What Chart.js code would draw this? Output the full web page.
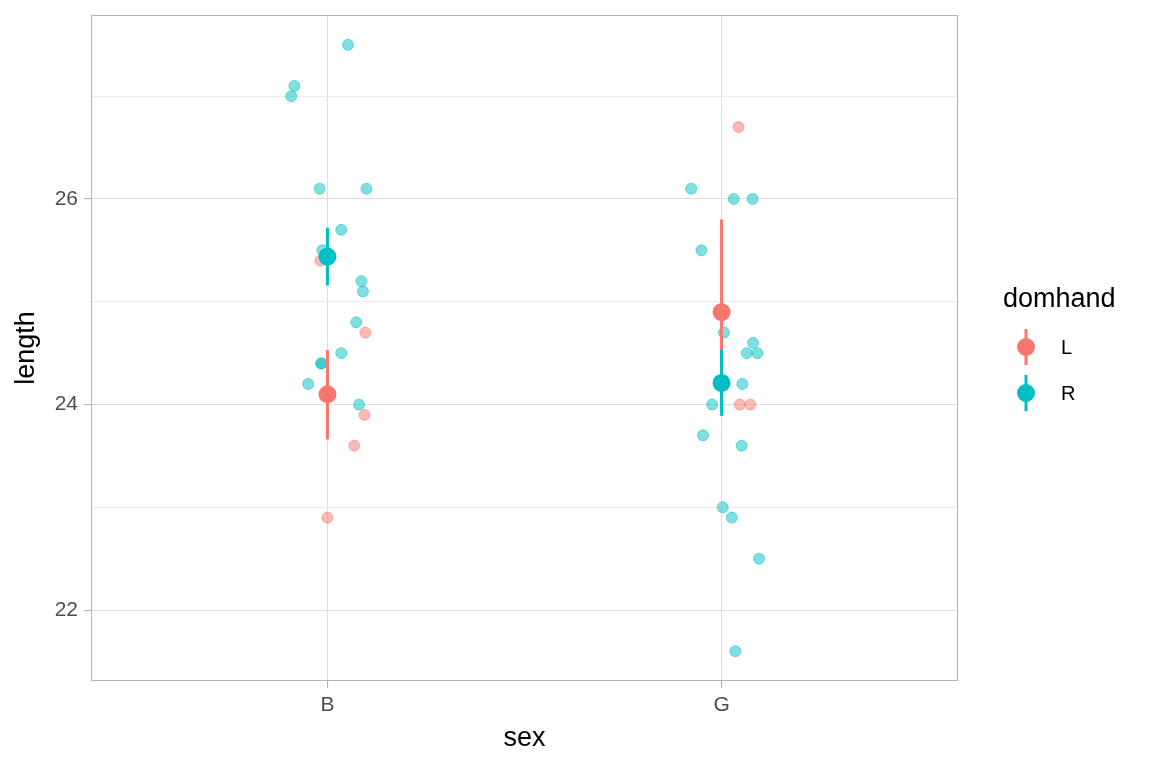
<!DOCTYPE html>
<html>
<head>
<meta charset="utf-8">
<script src="https://cdn.jsdelivr.net/npm/chart.js@4"></script>
<style>
  body { margin: 0; background: #fff; }
  #chart { display: block; }
</style>
</head>
<body>
<canvas id="chart" width="1152" height="768"></canvas>
<script>
// categories on the x axis
const sexLabels = ["B", "G"];
const groups = ["L", "R"];

// jittered raw points (x is 1 = B, 2 = G plus jitter)
const leftX = [0.982, 1.096, 1.094, 1.068, 1.0, 2.043, 2.046, 2.073];
const leftY = [25.4, 24.7, 23.9, 23.6, 22.9, 26.7, 24.0, 24.0];
const rightX = [1.052, 0.916, 0.908, 0.98, 1.099, 1.035, 0.987, 1.086, 1.09, 1.073, 1.035, 0.984, 0.985, 0.951, 1.08,
  1.923, 2.031, 2.079, 1.949, 2.006, 2.08, 2.064, 2.091, 2.053, 1.976, 1.953, 2.051, 2.003, 2.026, 2.095, 2.035];
const rightY = [27.5, 27.1, 27.0, 26.1, 26.1, 25.7, 25.5, 25.2, 25.1, 24.8, 24.5, 24.4, 24.4, 24.2, 24.0,
  26.1, 26.0, 26.0, 25.5, 24.7, 24.6, 24.5, 24.5, 24.2, 24.0, 23.7, 23.6, 23.0, 22.9, 22.5, 21.6];

// summaries per sex (mean and error bar ends)
const leftMean = [24.1, 24.9];
const leftLow = [23.66, 24.0];
const leftHigh = [24.53, 25.8];
const rightMean = [25.44, 24.21];
const rightLow = [25.16, 23.89];
const rightHigh = [25.72, 24.53];

const yTicks = [22, 23, 24, 25, 26, 27];

const red = "#F8766D";
const teal = "#00BFC4";
const font = "'Liberation Sans', Arial, sans-serif";

function pts(xs, ys) {
  return xs.map((x, i) => ({ x: x, y: ys[i] }));
}

function errorBars(low, high, color, order) {
  return low.map((lo, i) => ({
    type: "scatter",
    data: [{ x: i + 1, y: lo }, { x: i + 1, y: high[i] }],
    showLine: true,
    borderColor: color,
    borderWidth: 3,
    pointRadius: 0,
    order: order,
  }));
}

const datasets = [
  {
    label: "L raw",
    data: pts(leftX, leftY),
    backgroundColor: "rgba(248,118,109,0.5)",
    borderColor: "rgba(248,118,109,0.5)",
    borderWidth: 1,
    pointRadius: 5.5,
    order: 10,
  },
  {
    label: "R raw",
    data: pts(rightX, rightY),
    backgroundColor: "rgba(0,191,196,0.5)",
    borderColor: "rgba(0,191,196,0.5)",
    borderWidth: 1,
    pointRadius: 5.5,
    order: 9,
  },
  ...errorBars(leftLow, leftHigh, red, 6),
  {
    label: "L mean",
    data: leftMean.map((m, i) => ({ x: i + 1, y: m })),
    backgroundColor: red,
    borderWidth: 0,
    pointRadius: 9,
    order: 5,
  },
  ...errorBars(rightLow, rightHigh, teal, 4),
  {
    label: "R mean",
    data: rightMean.map((m, i) => ({ x: i + 1, y: m })),
    backgroundColor: teal,
    borderWidth: 0,
    pointRadius: 9,
    order: 3,
  },
];

// panel border + legend on the right
const decor = {
  id: "decor",
  afterDraw(chart) {
    const { ctx, chartArea: a } = chart;
    ctx.save();
    ctx.strokeStyle = "#B3B3B3";
    ctx.lineWidth = 1;
    ctx.strokeRect(a.left + 0.5, a.top + 0.5, a.right - a.left - 1, a.bottom - a.top - 1);

    ctx.fillStyle = "#000";
    ctx.font = "27px " + font;
    ctx.textBaseline = "alphabetic";
    ctx.fillText("domhand", 1003, 307);

    const colors = [red, teal];
    const ys = [347, 393];
    groups.forEach((g, i) => {
      ctx.strokeStyle = colors[i];
      ctx.lineWidth = 3;
      ctx.beginPath();
      ctx.moveTo(1026, ys[i] - 18);
      ctx.lineTo(1026, ys[i] + 18);
      ctx.stroke();
      ctx.fillStyle = colors[i];
      ctx.beginPath();
      ctx.arc(1026, ys[i], 9, 0, Math.PI * 2);
      ctx.fill();
      ctx.fillStyle = "#000";
      ctx.font = "20px " + font;
      ctx.textBaseline = "middle";
      ctx.fillText(g, 1061, ys[i] + 1);
    });
    ctx.restore();
  },
};

new Chart(document.getElementById("chart"), {
  type: "scatter",
  data: { datasets: datasets },
  plugins: [decor],
  options: {
    responsive: false,
    devicePixelRatio: 1,
    animation: false,
    layout: { padding: { left: 0, top: 15, right: 194, bottom: 0 } },
    plugins: { legend: { display: false }, tooltip: { enabled: false } },
    scales: {
      x: {
        type: "linear",
        min: 0.4,
        max: 2.6,
        afterBuildTicks: (s) => { s.ticks = sexLabels.map((_, i) => ({ value: i + 1 })); },
        afterFit: (s) => { s.height = 87; s.paddingLeft = 0; s.paddingRight = 0; },
        ticks: {
          callback: (v) => sexLabels[v - 1] || "",
          color: "#4D4D4D",
          font: { family: font, size: 21 },
          padding: 5,
          maxRotation: 0,
        },
        grid: { color: "#DEDEDE", lineWidth: 1.1, tickColor: "#B3B3B3", tickLength: 7 },
        border: { display: false },
        title: {
          display: true,
          text: "sex",
          color: "#000",
          font: { family: font, size: 27 },
          padding: { top: 0, bottom: 13 },
        },
      },
      y: {
        type: "linear",
        min: 21.31,
        max: 27.79,
        afterBuildTicks: (s) => { s.ticks = yTicks.map((v) => ({ value: v })); },
        afterFit: (s) => { s.width = 91; s.paddingTop = 0; s.paddingBottom = 0; },
        ticks: {
          callback: (v) => (v % 2 === 0 ? String(v) : ""),
          color: "#4D4D4D",
          font: { family: font, size: 21 },
          padding: 6,
        },
        grid: {
          color: (c) => (c.tick && c.tick.value % 2 === 0 ? "#DEDEDE" : "#EBEBEB"),
          lineWidth: (c) => (c.tick && c.tick.value % 2 === 0 ? 1.1 : 1),
          tickColor: (c) => (c.tick && c.tick.value % 2 === 0 ? "#B3B3B3" : "rgba(0,0,0,0)"),
          tickLength: 7,
        },
        border: { display: false },
        title: {
          display: true,
          text: "length",
          color: "#000",
          font: { family: font, size: 27 },
          padding: { top: 10, bottom: 0 },
        },
      },
    },
  },
});
</script>
</body>
</html>
